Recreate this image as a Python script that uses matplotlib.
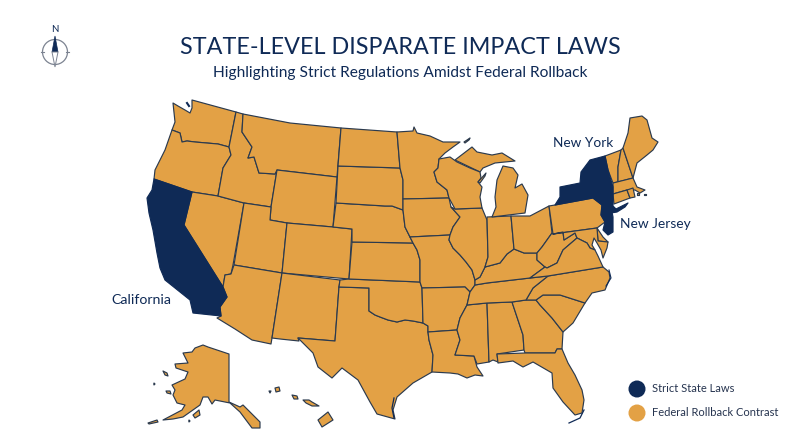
import matplotlib
matplotlib.use('Agg')
import matplotlib.pyplot as plt
from matplotlib.patches import Polygon, Circle

plt.rcParams['font.family'] = ['Lato', 'DejaVu Sans']

# colours
NAVY = '#0f2a56'
GOLD = '#e3a145'
EDGE = '#2b3a4e'

# text
title = 'STATE-LEVEL DISPARATE IMPACT LAWS'
subtitle = 'Highlighting Strict Regulations Amidst Federal Rollback'
legend_labels = ['Strict State Laws', 'Federal Rollback Contrast']
strict_labels = ['California', 'New York', 'New Jersey']

# state outlines
WA = [(173,103),(178,106),(185,110),(190,113),(192,108),(192,100),(214,106),(236,112),(229,147),(218,144),(195,142),(187,141),(182,142),(180,133),(172,130),(175,122)]
OR = [(172,130),(180,133),(182,142),(187,141),(195,142),(218,144),(229,147),(231,155),(223,168),(218,196),(192,192),(154,179),(155,170),(165,150)]
CA = [(154,179),(192,192),(184,225),(223,287),(227,297),(220,307),(221,316),(193,313),(190,300),(180,292),(165,280),(160,268),(157,253),(153,230),(149,213),(147,198),(152,190)]
NV = [(192,192),(218,196),(244,203),(233,265),(231,274),(225,275),(223,287),(184,225)]
ID = [(236,112),(243,114),(242,132),(252,147),(248,158),(254,157),(259,173),(275,174),(277,170),(271,207),(244,203),(218,196),(223,168),(231,155),(229,147)]
MT = [(243,114),(290,123),(341,128),(337,177),(277,170),(275,174),(259,173),(254,157),(248,158),(252,147),(242,132)]
WY = [(277,170),(337,177),(333,227),(287,223),(270,220),(271,207)]
UT = [(244,203),(271,207),(270,220),(287,223),(282,273),(234,265)]
CO = [(287,223),(333,227),(352,229),(349,279),(282,273)]
AZ = [(234,265),(282,273),(272,338),(271,344),(252,340),(235,329),(217,318),(221,316),(220,307),(227,297),(223,287),(225,275),(231,274)]
NM = [(282,273),(340,280),(339,287),(335,341),(298,338),(299,341),(280,339),(272,338)]
TX = [(339,287),(369,288),(369,311),(375,315),(380,317),(388,320),(397,322),(405,320),(413,321),(423,323),(428,326),(428,332),(429,340),(433,355),(432,372),(413,383),(397,397),(393,410),(395,419),(377,414),(370,402),(358,380),(342,368),(332,378),(318,367),(313,353),(298,338),(335,341)]
OK = [(340,280),(349,279),(420,282),(422,288),(423,323),(413,321),(405,320),(397,322),(388,320),(380,317),(375,315),(369,311),(369,288),(339,287)]
KS = [(352,242),(413,243),(417,250),(420,260),(420,282),(349,279)]
NE = [(336,203),(385,206),(392,206),(403,210),(405,227),(410,237),(413,243),(352,242),(352,229),(333,227)]
SD = [(338,166),(400,168),(403,180),(403,199),(403,210),(392,206),(385,206),(336,203)]
ND = [(341,128),(397,132),(400,168),(338,166)]
MN = [(397,132),(413,131),(414,127),(417,133),(430,136),(443,142),(460,142),(453,147),(445,153),(439,159),(438,168),(434,172),(437,182),(447,190),(449,198),(403,199),(403,180),(400,168)]
IA = [(403,199),(449,198),(451,207),(460,217),(453,227),(450,235),(410,237),(405,227),(403,210)]
MO = [(410,237),(450,235),(449,240),(453,248),(460,255),(466,262),(472,270),(475,280),(475,285),(470,292),(465,287),(422,288),(420,282),(420,260),(417,250),(413,243)]
AR = [(422,288),(465,287),(470,292),(467,305),(460,318),(457,330),(428,332),(428,326),(423,323)]
LA = [(428,332),(457,330),(460,340),(455,355),(474,356),(477,367),(483,376),(475,375),(467,378),(458,374),(450,373),(432,372),(433,355),(429,340)]
MS = [(467,305),(487,303),(489,362),(477,364),(474,356),(455,355),(460,340),(457,330),(460,318)]
AL = [(487,303),(512,302),(523,335),(524,350),(497,354),(498,362),(493,360),(489,362)]
GA = [(512,302),(526,300),(536,300),(540,305),(552,318),(563,332),(562,349),(557,349),(555,353),(525,353),(524,350),(523,335)]
SC = [(536,300),(543,295),(560,295),(585,303),(573,323),(563,332),(552,318),(540,305)]
NC = [(526,300),(533,288),(548,276),(603,267),(609,272),(610,278),(605,290),(592,293),(585,303),(560,295),(543,295),(536,300)]
TN = [(467,305),(470,292),(475,285),(487,283),(530,278),(548,276),(533,288),(526,300),(512,302),(487,303)]
KY = [(475,285),(475,280),(480,277),(485,267),(500,263),(507,254),(514,249),(524,253),(537,253),(537,260),(545,267),(530,278),(487,283)]
IL = [(455,209),(482,208),(487,220),(488,257),(485,267),(480,277),(475,280),(472,270),(466,262),(460,255),(453,248),(449,240),(450,235),(453,227),(460,217),(451,207)]
IN = [(487,217),(511,216),(514,249),(507,254),(500,263),(485,267),(488,257)]
OH = [(511,216),(530,216),(549,206),(552,233),(542,247),(537,253),(524,253),(514,249)]
WV = [(552,233),(553,234),(563,232),(564,240),(575,233),(577,238),(563,250),(557,263),(547,268),(545,267),(537,260),(537,253),(542,247)]
PA = [(549,206),(555,205),(593,198),(602,205),(601,215),(605,222),(597,228),(553,234)]
NY = [(555,205),(560,197),(560,187),(580,183),(581,172),(590,160),(605,156),(608,170),(613,187),(613,206),(616,209),(622,206),(628,203),(625,207),(617,212),(611,213),(603,207),(602,205),(593,198)]
NJ = [(602,205),(612,212),(613,217),(613,232),(608,235),(603,230),(605,222),(601,215)]
VT = [(605,156),(621,150),(618,167),(618,182),(613,183),(608,170)]
NH = [(621,150),(623,148),(633,178),(618,182),(618,167)]
ME = [(623,148),(628,133),(630,118),(642,116),(647,120),(652,138),(658,142),(653,150),(647,155),(637,163),(633,178)]
MA = [(613,183),(633,178),(637,187),(645,190),(640,193),(635,190),(627,190),(613,194)]
CT = [(613,194),(627,190),(630,198),(614,204)]
RI = [(627,190),(633,188),(635,197),(630,198)]
DE = [(597,228),(603,237),(608,242),(598,241)]
MD = [(553,234),(597,228),(598,241),(608,242),(607,248),(603,258),(601,250),(597,243),(594,238),(592,245),(595,250),(590,248),(587,243),(577,238),(575,233),(564,240),(563,232)]
VA = [(530,278),(545,267),(547,268),(557,263),(563,250),(577,238),(587,243),(590,248),(595,250),(598,256),(603,267),(548,276)]
MI_UP = [(455,160),(472,147),(477,152),(492,155),(502,153),(515,161),(495,163),(483,168),(480,172)]
MI_LP = [(492,217),(496,207),(495,197),(497,180),(503,166),(513,168),(518,175),(515,188),(522,184),(528,195),(525,213)]
WI = [(439,159),(450,157),(457,162),(470,168),(480,172),(481,178),(478,182),(482,187),(480,197),(482,208),(455,209),(449,198),(447,190),(437,182),(434,172),(438,168)]
FL = [(497,354),(525,353),(555,353),(557,349),(562,349),(568,363),(575,375),(582,390),(584,400),(582,413),(575,415),(563,402),(553,388),(552,373),(533,362),(523,367),(513,361),(498,363)]
AK = [(183,353),(192,352),(195,348),(203,345),(208,347),(229,354),(229,402),(240,407),(243,405),(260,422),(260,428),(252,428),(240,412),(230,403),(215,400),(212,404),(208,397),(203,397),(200,405),(183,417),(173,419),(163,420),(182,410),(185,405),(177,403),(173,395),(175,390),(172,385),(185,379),(188,372),(176,368),(175,364),(188,363)]
HI = [(318,420),(328,412),(333,420),(322,427)]
# smaller islands
HI_SMALL = [[(275,388),(279,387),(280,391),(276,392)],[(292,395),(297,396),(298,399),(294,399)],
            [(303,400),(309,400),(312,402),(319,406),(312,406),(306,403)],[(269,391),(271,391),(270,393)]]
AK_SMALL = [[(193,415),(199,410),(200,415),(195,418)],[(148,423),(157,420),(158,422),(149,424)],
            [(163,371),(167,373),(168,376),(165,375)],[(166,391),(170,391),(171,394),(167,393)],
            [(154,383),(155,384),(154,385)],[(189,420),(190,421),(189,422)]]
OTHER_ISLES = [[(464,142),(470,138),(469,140),(465,143)],[(478,182),(486,173),(485,176),(480,183)],
               [(637,193),(639,193),(639,195),(637,195)],[(644,194),(646,194),(646,195),(644,195)]]

strict_states = [CA, NY, NJ]
other_states = [WA, OR, NV, ID, MT, WY, UT, CO, AZ, NM, TX, OK, KS, NE, SD, ND, MN, IA, MO, AR, LA, MS, AL,
                GA, SC, NC, TN, KY, IL, IN, OH, WV, PA, VT, NH, ME, MA, CT, RI, DE, MD, VA, MI_UP, MI_LP, WI, FL,
                AK, HI] + HI_SMALL + AK_SMALL + OTHER_ISLES

fig = plt.figure(figsize=(8, 4.47), dpi=100)
ax = fig.add_axes([0, 0, 1, 1])
ax.set_xlim(0, 800)
ax.set_ylim(447, 0)
ax.axis('off')

for shape in other_states:
    ax.add_patch(Polygon(shape, closed=True, facecolor=GOLD, edgecolor=EDGE, linewidth=0.85, joinstyle='round'))
for shape in strict_states:
    ax.add_patch(Polygon(shape, closed=True, facecolor=NAVY, edgecolor=NAVY, linewidth=0.85, joinstyle='round'))

# navy slivers on the coast
ax.plot([394, 392, 394], [398, 408, 418], color=NAVY, lw=0.9)
ax.plot([584, 580, 569], [410, 418, 423], color=NAVY, lw=0.9)
ax.plot([609, 611, 606], [270, 278, 286], color=NAVY, lw=0.8)
ax.plot([187, 189], [103, 106], color=NAVY, lw=1.5)

# titles
ax.text(400, 47, title, ha='center', va='center', fontsize=16.8, color=NAVY)
ax.text(400, 73, subtitle, ha='center', va='center', fontsize=11.2, color=NAVY)

# state labels
ax.text(141, 300, strict_labels[0], ha='center', va='center', fontsize=10.2, color=NAVY)
ax.text(583, 143, strict_labels[1], ha='center', va='center', fontsize=9.8, color=NAVY)
ax.text(655.5, 224, strict_labels[2], ha='center', va='center', fontsize=9.9, color=NAVY)

# legend
for y_pos, colour, label in zip([389, 413], [NAVY, GOLD], legend_labels):
    ax.add_patch(Circle((637, y_pos), 8.5, facecolor=colour, edgecolor='none'))
    ax.text(652, y_pos, label, ha='left', va='center', fontsize=8.0, color='#26344f')

# compass
ax.add_patch(Circle((55, 52), 12.5, facecolor='none', edgecolor='#7c8391', lw=0.9))
ax.plot([41, 44], [52, 52], color='#7c8391', lw=0.8)
ax.plot([66, 69], [52, 52], color='#7c8391', lw=0.8)
ax.add_patch(Polygon([(52, 52), (55, 36), (58, 52)], facecolor=NAVY, edgecolor=NAVY, lw=0.5))
ax.add_patch(Polygon([(52, 52), (55, 67), (58, 52)], facecolor='white', edgecolor='#7c8391', lw=0.7))
ax.text(55, 30, 'N', ha='center', va='center', fontsize=7, color=NAVY)

fig.savefig('out.png', dpi=100, facecolor='white')
